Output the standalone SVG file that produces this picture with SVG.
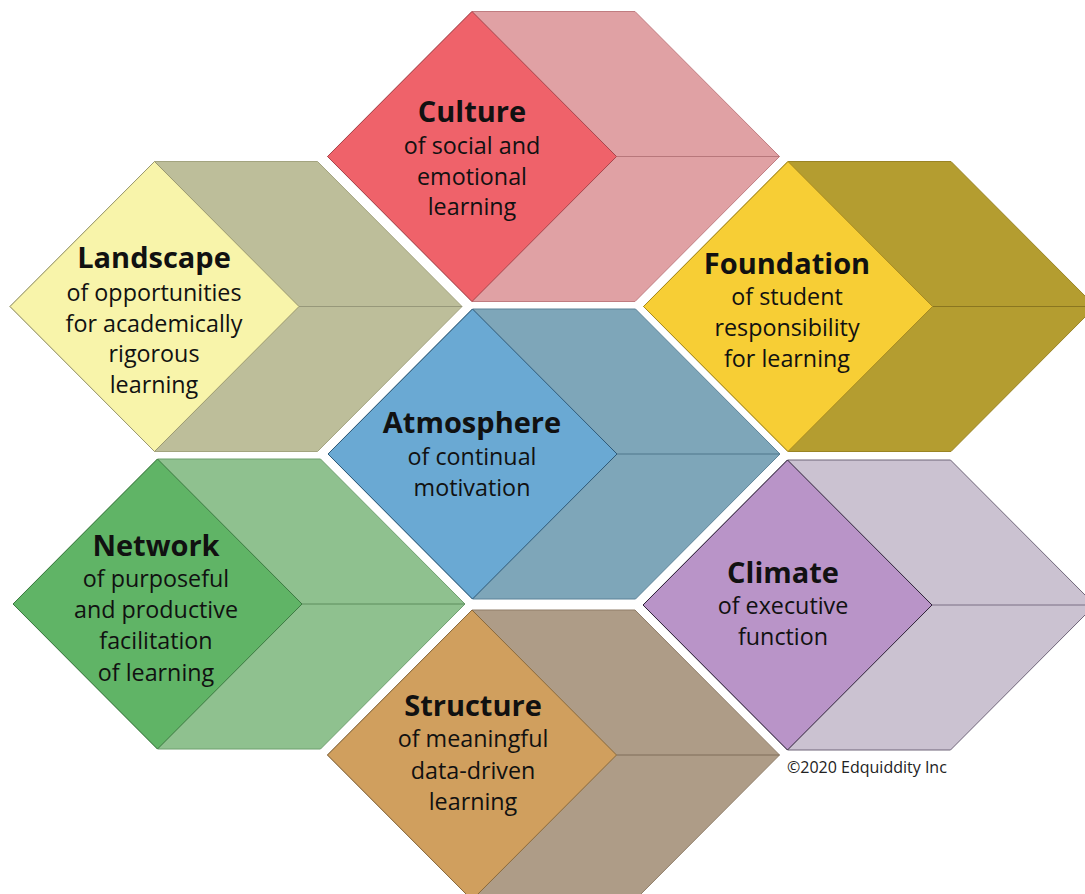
<svg xmlns="http://www.w3.org/2000/svg" width="1085" height="894" viewBox="0 0 1085 894">
<defs>
<style>
.t{font-family:"Open Sans","Noto Sans","Liberation Sans",sans-serif;fill:#111;text-anchor:middle}
.h{font-size:29px;font-weight:700}
.s{font-size:23.3px}
.hex,.dia{stroke-width:1}
.ln{fill:none;stroke-width:1}
</style>
<path id="hexp" d="M0,0 L144.5,-145 L307.5,-145 L452,0 L307.5,145 L144.5,145 Z"/>
<path id="diap" d="M0,0 L144.5,-145 L289,0 L144.5,145 Z"/>
</defs>
<rect width="1085" height="894" fill="#fff"/>

<g id="culture" transform="translate(327.5,156.5)">
<use href="#hexp" fill="#E0A1A4" stroke="#c07c80"/>
<path class="ln" d="M289,0 L452,0" stroke="#b8777b"/>
<use href="#diap" fill="#EF626A" stroke="#a8464c"/>
</g>
<g id="landscape" transform="translate(10,306.5)">
<use href="#hexp" fill="#BDBE9A" stroke="#a3a47f"/>
<path class="ln" d="M289,0 L452,0" stroke="#97987a"/>
<use href="#diap" fill="#F8F4AA" stroke="#9a9870"/>
</g>
<g id="foundation" transform="translate(643.5,306.5)">
<use href="#hexp" fill="#B49D30" stroke="#9a8424"/>
<path class="ln" d="M289,0 L452,0" stroke="#8a7620"/>
<use href="#diap" fill="#F7CE35" stroke="#a88a20"/>
</g>
<g id="atmosphere" transform="translate(328,454)">
<use href="#hexp" fill="#7EA6B9" stroke="#5c8398"/>
<path class="ln" d="M289,0 L452,0" stroke="#4f768b"/>
<use href="#diap" fill="#6AA9D3" stroke="#2f5a78"/>
</g>
<g id="network" transform="translate(13,604)">
<use href="#hexp" fill="#8FC18F" stroke="#6fa06f"/>
<path class="ln" d="M289,0 L452,0" stroke="#5d8d5d"/>
<use href="#diap" fill="#60B466" stroke="#3d7a42"/>
</g>
<g id="climate" transform="translate(643,605)">
<use href="#hexp" fill="#CBC2D1" stroke="#6e6478"/>
<path class="ln" d="M289,0 L452,0" stroke="#7a6f84"/>
<use href="#diap" fill="#B994C8" stroke="#2e2238"/>
</g>
<g id="structure" transform="translate(327.5,755)">
<use href="#hexp" fill="#AE9C87" stroke="#8f7d68"/>
<path class="ln" d="M289,0 L452,0" stroke="#7f6d58"/>
<use href="#diap" fill="#D09F5E" stroke="#8a6a3c"/>
</g>

<g id="labels">
<text class="t h" x="472" y="122">Culture</text>
<text class="t s" x="472" y="154">of social and</text>
<text class="t s" x="472" y="185">emotional</text>
<text class="t s" x="472" y="215">learning</text>

<text class="t h" x="154" y="268">Landscape</text>
<text class="t s" x="154" y="301">of opportunities</text>
<text class="t s" x="154" y="332">for academically</text>
<text class="t s" x="154" y="362">rigorous</text>
<text class="t s" x="154" y="393">learning</text>

<text class="t h" x="787" y="274">Foundation</text>
<text class="t s" x="787" y="305">of student</text>
<text class="t s" x="787" y="336">responsibility</text>
<text class="t s" x="787" y="367">for learning</text>

<text class="t h" x="472" y="433">Atmosphere</text>
<text class="t s" x="472" y="465">of continual</text>
<text class="t s" x="472" y="496">motivation</text>

<text class="t h" x="156" y="556">Network</text>
<text class="t s" x="156" y="587">of purposeful</text>
<text class="t s" x="156" y="618">and productive</text>
<text class="t s" x="156" y="649">facilitation</text>
<text class="t s" x="156" y="681">of learning</text>

<text class="t h" x="783" y="583">Climate</text>
<text class="t s" x="783" y="614">of executive</text>
<text class="t s" x="783" y="645">function</text>

<text class="t h" x="473" y="716">Structure</text>
<text class="t s" x="473" y="747">of meaningful</text>
<text class="t s" x="473" y="779">data-driven</text>
<text class="t s" x="473" y="810">learning</text>

<text x="787" y="773" style="font-family:'Open Sans','Liberation Sans',sans-serif;font-size:16px;fill:#222">©2020 Edquiddity Inc</text>
</g>
</svg>
